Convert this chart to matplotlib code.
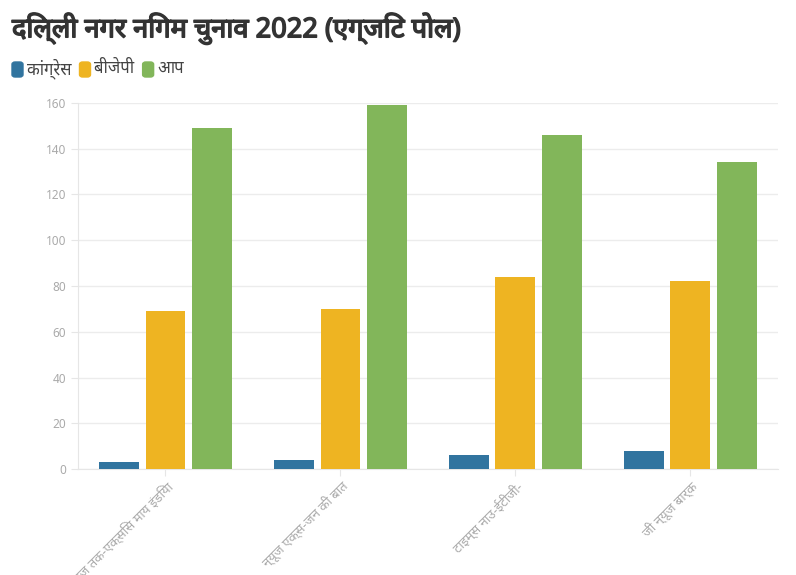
import numpy as np
import matplotlib.pyplot as plt
import matplotlib.patheffects as pe
from matplotlib.patches import FancyBboxPatch

plt.rcParams['font.family'] = ['Noto Sans', 'DejaVu Sans']

categories = ['आज तक-एक्सिस माय इंडिया', 'न्यूज एक्स-जन की बात',
              'टाइम्स नाउ-ईटीजी-', 'जी न्यूज बार्क']
parties = ['कांग्रेस', 'बीजेपी', 'आप']
congress = [3, 4, 6, 8]
bjp = [69, 70, 84, 82]
aap = [149, 159, 146, 134]
colors = ['#31749f', '#eeb422', '#82b65a']

fig = plt.figure(figsize=(7.96, 5.75), dpi=100)
ax = fig.add_axes([0.098, 0.1843, 0.879, 0.6366])

x = np.arange(len(categories))
w = 0.227
step = 0.266
for i, (vals, c) in enumerate(zip([congress, bjp, aap], colors)):
    ax.bar(x + (i - 1) * step, vals, w, color=c, zorder=3)

ax.set_xlim(-0.5, len(categories) - 0.5)
ax.set_ylim(0, 160)
ax.set_yticks(range(0, 161, 20))
ax.grid(axis='y', color='#ececec', lw=1, zorder=0)
for s in ['top', 'right']:
    ax.spines[s].set_visible(False)
for s in ['left', 'bottom']:
    ax.spines[s].set_color('#e6e6e6')
ax.tick_params(axis='y', colors='#e6e6e6', labelcolor='#aaaaaa', labelsize=8.5, length=5)
ax.tick_params(axis='x', colors='#e6e6e6', labelcolor='#aaaaaa', labelsize=9.5,
               length=5, pad=2)
ax.set_xticks(x)
ax.set_xticklabels(categories, rotation=45, ha='right', rotation_mode='anchor')

# शीर्षक (bold जैसा दिखाने के लिए stroke)
fig.text(0.015, 0.950, 'दिल्ली नगर निगम चुनाव 2022 (एग्जिट पोल)', fontsize=19.6,
         fontweight='bold', color='#333333', va='center',
         path_effects=[pe.withStroke(linewidth=1.1, foreground='#333333')])

# legend
lx = 12
for p, c in zip(parties, colors):
    fig.patches.append(FancyBboxPatch((lx / 796, 1 - 77 / 575), 11 / 796, 15 / 575,
                                      boxstyle='round,pad=0,rounding_size=0.004',
                                      transform=fig.transFigure, color=c))
    t = fig.text((lx + 15) / 796, 1 - 69 / 575, p, fontsize=12, color='#444444', va='center')
    fig.canvas.draw()
    bb = t.get_window_extent()
    lx = bb.x1 + 8

fig.savefig('out.png', dpi=100)
